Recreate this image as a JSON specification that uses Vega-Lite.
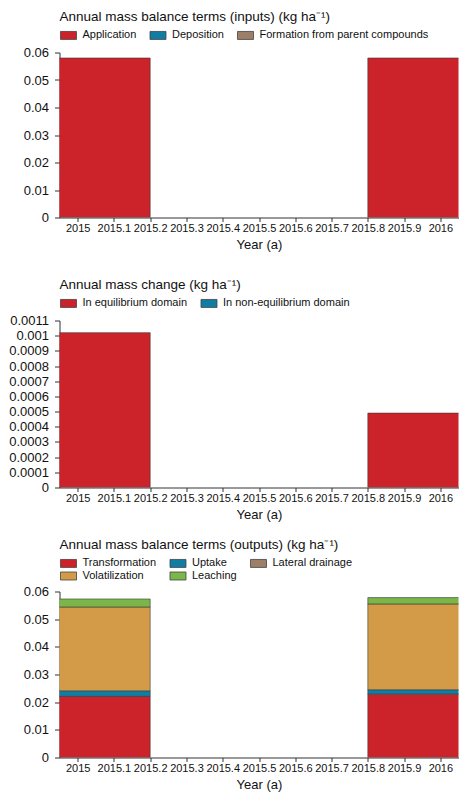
{
  "$schema": "https://vega.github.io/schema/vega-lite/v6.json",
  "padding": {"left": 8.5, "top": 9.5, "right": 0, "bottom": 0},
  "config": {
    "font": "Liberation Sans",
    "view": {"stroke": null},
    "axis": {"labelFont": "Liberation Sans", "labelFontSize": 11, "labelColor": "#111", "titleFont": "Liberation Sans", "titleFontSize": 13, "titleFontWeight": "normal", "titleColor": "#111", "domainColor": "#333", "tickColor": "#333", "grid": false, "tickSize": 4, "labelPadding": 1, "titlePadding": 4.5},
    "axisY": {"labelFontSize": 13, "tickSize": 5, "labelPadding": 6},
    "legend": {"labelFont": "Liberation Sans", "labelFontSize": 11, "labelColor": "#111", "labelLimit": 300, "symbolType": "M-1.78,-0.89H1.78V0.89H-1.78Z", "symbolSize": 81, "symbolOffset": 3.5, "symbolStrokeColor": "#444", "symbolStrokeWidth": 0.8, "symbolOpacity": 1, "labelOffset": 8.5, "columnPadding": 11.5, "rowPadding": 1, "padding": 0, "offset": 11},
    "title": {"anchor": "start", "frame": "group", "fontSize": 13.5, "fontWeight": "normal", "font": "Liberation Sans", "color": "#111", "offset": 6.5}
  },
  "spacing": 26,
  "resolve": {"scale": {"color": "independent", "y": "independent"}, "legend": {"color": "independent"}},
  "vconcat": [
    {
      "title": {"text": "Annual mass balance terms (inputs) (kg ha⁻¹)", "fontSize": 13.5},
      "width": 399,
      "height": 165,
      "data": {"values": [
        {"start": 2014.8, "end": 2015.2, "term": "Application", "value": 0.058},
        {"start": 2015.8, "end": 2016.2, "term": "Application", "value": 0.058}
      ]},
      "transform": [{"stack": "value", "groupby": ["start"], "as": ["v0", "v1"]}],
      "mark": {"type": "bar", "clip": true, "stroke": "#3a3a3a", "strokeWidth": 0.6},
      "encoding": {
        "x": {"field": "start", "type": "quantitative", "scale": {"domain": [2014.95, 2016.05], "nice": false, "zero": false}, "axis": {"values": [2015, 2015.1, 2015.2, 2015.3, 2015.4, 2015.5, 2015.6, 2015.7, 2015.8, 2015.9, 2016], "format": "~g", "labelOverlap": false, "labelFlush": false, "title": "Year (a)"}},
        "x2": {"field": "end"},
        "y": {"field": "v1", "type": "quantitative", "scale": {"domain": [0, 0.06], "nice": false}, "axis": {"values": [0, 0.01, 0.02, 0.03, 0.04, 0.05, 0.06], "format": "~g", "title": null}},
        "y2": {"field": "v0"},
        "color": {"field": "term", "type": "nominal", "scale": {"domain": ["Application", "Deposition", "Formation from parent compounds"], "range": ["#CC2229", "#127DA3", "#9C7F66"]}, "legend": {"title": null, "orient": "top", "direction": "horizontal"}}
      }
    },
    {
      "spacing": 16,
      "resolve": {"scale": {"color": "independent", "y": "independent"}, "legend": {"color": "independent"}},
      "vconcat": [
        {
          "title": {"text": "Annual mass change (kg ha⁻¹)", "fontSize": 13.5},
          "width": 399,
          "height": 167,
          "data": {"values": [
            {"start": 2014.8, "end": 2015.2, "term": "In equilibrium domain", "value": 0.00102},
            {"start": 2015.8, "end": 2016.2, "term": "In equilibrium domain", "value": 0.00049}
          ]},
          "transform": [{"stack": "value", "groupby": ["start"], "as": ["v0", "v1"]}],
          "mark": {"type": "bar", "clip": true, "stroke": "#3a3a3a", "strokeWidth": 0.6},
          "encoding": {
            "x": {"field": "start", "type": "quantitative", "scale": {"domain": [2014.95, 2016.05], "nice": false, "zero": false}, "axis": {"values": [2015, 2015.1, 2015.2, 2015.3, 2015.4, 2015.5, 2015.6, 2015.7, 2015.8, 2015.9, 2016], "format": "~g", "labelOverlap": false, "labelFlush": false, "title": "Year (a)"}},
            "x2": {"field": "end"},
            "y": {"field": "v1", "type": "quantitative", "scale": {"domain": [0, 0.0011], "nice": false}, "axis": {"values": [0, 0.0001, 0.0002, 0.0003, 0.0004, 0.0005, 0.0006, 0.0007, 0.0008, 0.0009, 0.001, 0.0011], "format": "~g", "title": null}},
            "y2": {"field": "v0"},
            "color": {"field": "term", "type": "nominal", "scale": {"domain": ["In equilibrium domain", "In non-equilibrium domain"], "range": ["#CC2229", "#127DA3"]}, "legend": {"title": null, "orient": "top", "direction": "horizontal"}}
          }
        },
        {
          "title": {"text": "Annual mass balance terms (outputs) (kg ha⁻¹)", "fontSize": 13.5},
          "width": 399,
          "height": 166,
          "data": {"values": [
            {"start": 2014.8, "end": 2015.2, "term": "Transformation", "s": 1, "value": 0.0221},
            {"start": 2014.8, "end": 2015.2, "term": "Uptake", "s": 2, "value": 0.0020},
            {"start": 2014.8, "end": 2015.2, "term": "Volatilization", "s": 3, "value": 0.0303},
            {"start": 2014.8, "end": 2015.2, "term": "Leaching", "s": 4, "value": 0.0029},
            {"start": 2015.8, "end": 2016.2, "term": "Transformation", "s": 1, "value": 0.0229},
            {"start": 2015.8, "end": 2016.2, "term": "Uptake", "s": 2, "value": 0.0016},
            {"start": 2015.8, "end": 2016.2, "term": "Volatilization", "s": 3, "value": 0.0310},
            {"start": 2015.8, "end": 2016.2, "term": "Leaching", "s": 4, "value": 0.0023}
          ]},
          "transform": [{"stack": "value", "groupby": ["start"], "sort": [{"field": "s", "order": "ascending"}], "as": ["v0", "v1"]}],
          "mark": {"type": "bar", "clip": true, "stroke": "#3a3a3a", "strokeWidth": 0.6},
          "encoding": {
            "x": {"field": "start", "type": "quantitative", "scale": {"domain": [2014.95, 2016.05], "nice": false, "zero": false}, "axis": {"values": [2015, 2015.1, 2015.2, 2015.3, 2015.4, 2015.5, 2015.6, 2015.7, 2015.8, 2015.9, 2016], "format": "~g", "labelOverlap": false, "labelFlush": false, "title": "Year (a)"}},
            "x2": {"field": "end"},
            "y": {"field": "v1", "type": "quantitative", "scale": {"domain": [0, 0.06], "nice": false}, "axis": {"values": [0, 0.01, 0.02, 0.03, 0.04, 0.05, 0.06], "format": "~g", "title": null}},
            "y2": {"field": "v0"},
            "color": {"field": "term", "type": "nominal", "scale": {"domain": ["Transformation", "Uptake", "Lateral drainage", "Volatilization", "Leaching"], "range": ["#CC2229", "#127DA3", "#9C7F66", "#D39B48", "#7AB648"]}, "legend": {"title": null, "orient": "top", "direction": "horizontal", "columns": 3, "rowPadding": 0, "offset": 9.5}}
          }
        }
      ]
    }
  ]
}
